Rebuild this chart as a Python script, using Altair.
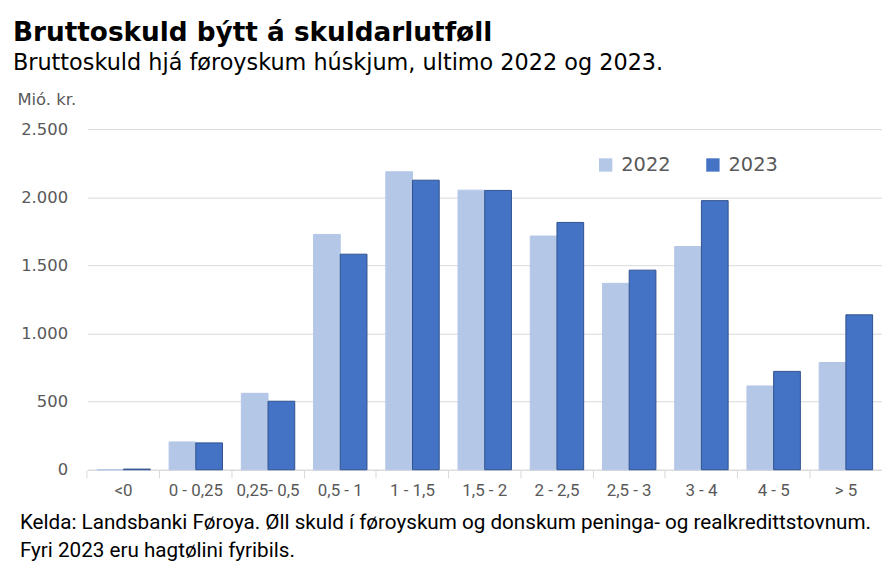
import altair as alt
import pandas as pd

categories = ["<0", "0 - 0,25", "0,25- 0,5", "0,5 - 1", "1 - 1,5", "1,5 - 2",
              "2 - 2,5", "2,5 - 3", "3 - 4", "4 - 5", "> 5"]
values_2022 = [0, 204, 561, 1727, 2187, 2052, 1715, 1368, 1638, 615, 787]
values_2023 = [5, 197, 503, 1582, 2125, 2050, 1815, 1465, 1975, 722, 1137]
years = ["2022", "2023"]
footer_lines = ["Kelda: Landsbanki Føroya. Øll skuld í føroyskum og donskum peninga- og realkredittstovnum.",
                "Fyri 2023 eru hagtølini fyribils."]

rows = []
for c, a, b in zip(categories, values_2022, values_2023):
    rows.append({"cat": c, "year": "2022", "value": a})
    rows.append({"cat": c, "year": "2023", "value": b})
df = pd.DataFrame(rows)

W, H = 800, 343
LABEL_FONT = "Roboto"
FONT = "DejaVu Sans"

bars = alt.Chart(df).mark_bar().encode(
    x=alt.X("cat:N", sort=categories,
            scale=alt.Scale(paddingInner=0, paddingOuter=0),
            axis=alt.Axis(title=None, labelAngle=0, bandPosition=0, ticks=True,
                          tickColor="#d9d9d9", tickSize=8, domainColor="#d9d9d9",
                          labelFont=LABEL_FONT, labelFontSize=17, labelColor="#595959",
                          labelPadding=5, labelBound=False, labelOverlap=False)),
    xOffset=alt.XOffset("year:N", scale=alt.Scale(paddingInner=0, paddingOuter=0.352)),
    y=alt.Y("value:Q", scale=alt.Scale(domain=[0, 2500]),
            axis=alt.Axis(values=[0, 500, 1000, 1500, 2000, 2500],
                          labelExpr="replace(format(datum.value, ',d'), ',', '.')",
                          domain=False, ticks=False, gridColor="#d9d9d9",
                          labelFont=FONT, labelFontSize=16.5, labelColor="#595959",
                          labelPadding=20,
                          title="Mió. kr.", titleAngle=0, titleAlign="left",
                          titleBaseline="alphabetic", titleX=-71, titleY=-25,
                          titleFont=FONT, titleFontSize=16.5, titleFontWeight="normal",
                          titleColor="#595959")),
    color=alt.Color("year:N", scale=alt.Scale(domain=years, range=["#B4C7E7", "#4472C4"]),
                    legend=alt.Legend(title=None, orient="none", direction="horizontal",
                                      legendX=512, legendY=26, symbolType="square",
                                      symbolSize=180, symbolStrokeWidth=0,
                                      labelFont=FONT, labelFontSize=19.5, labelColor="#595959",
                                      columnPadding=32, labelOffset=6)),
    stroke=alt.condition("datum.year == '2023'", alt.value("#2F528F"), alt.value("#B4C7E7")),
    strokeWidth=alt.value(1),
)

foot_df = pd.DataFrame({"line": footer_lines, "i": [0, 1]})
footer = alt.Chart(foot_df).mark_text(
    align="left", baseline="alphabetic", font=LABEL_FONT, fontSize=20.8, color="#000000"
).encode(
    x=alt.value(-68),
    y=alt.Y("i:Q", scale=alt.Scale(domain=[0, 1], range=[H + 60, H + 88]), axis=None),
    text="line:N",
)

chart = alt.layer(bars, footer).resolve_scale(y="independent").properties(
    width=W, height=H,
    title=alt.TitleParams(
        text="Bruttoskuld býtt á skuldarlutføll",
        subtitle="Bruttoskuld hjá føroyskum húskjum, ultimo 2022 og 2023.",
        anchor="start", frame="group", dx=-75, offset=17,
        font=FONT, fontSize=26.5, fontWeight="bold", color="#000000",
        subtitleFont=FONT, subtitleFontSize=22.5, subtitleColor="#000000",
        subtitlePadding=6,
    ),
    autosize=alt.AutoSizeParams(type="none"),
    padding={"left": 80, "top": 120, "right": 0, "bottom": 100},
).configure_view(stroke=None)

chart.save("out.html", embed_options={"renderer": "svg", "actions": False})
